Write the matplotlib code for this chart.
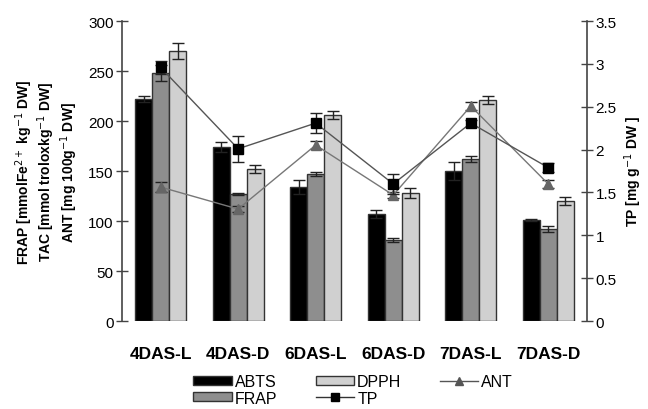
import numpy as np
import matplotlib
matplotlib.use('Agg')
import matplotlib.pyplot as plt
from matplotlib.lines import Line2D

matplotlib.rcParams['font.family'] = ['Liberation Sans', 'DejaVu Sans']

groups = ['4DAS-L', '4DAS-D', '6DAS-L', '6DAS-D', '7DAS-L', '7DAS-D']

abts = [222, 174, 134, 107, 150, 101]
abts_err = [3, 5, 7, 4, 9, 1]
frap = [248, 127, 147, 81, 162, 92]
frap_err = [8, 1, 2, 2, 3, 3]
dpph = [270, 152, 206, 128, 221, 120]
dpph_err = [8, 4, 4, 5, 4, 4]

ant = [134, 112, 176, 126, 215, 137]
ant_err = [5, 3, 4, 3, 4, 4]
tp = [2.96, 2.01, 2.31, 1.60, 2.31, 1.79]
tp_err = [0.08, 0.15, 0.12, 0.12, 0.04, 0.05]

fig = plt.figure(figsize=(6.48, 4.10), dpi=100)
ax = fig.add_axes([0.188, 0.2146, 0.718, 0.7314])
ax2 = ax.twinx()

x = np.arange(len(groups))
w = 0.22
ek = dict(ecolor='#222222', elinewidth=1, capsize=4, capthick=1)
b1 = ax.bar(x - w, abts, w, yerr=abts_err, color='black', edgecolor='#333333', linewidth=1, error_kw=ek)
b2 = ax.bar(x, frap, w, yerr=frap_err, color='#8e8e8e', edgecolor='#333333', linewidth=1, error_kw=ek)
b3 = ax.bar(x + w, dpph, w, yerr=dpph_err, color='#d0d0d0', edgecolor='#333333', linewidth=1, error_kw=ek)

ax.errorbar(x, ant, yerr=ant_err, color='#777777', marker='^', markersize=6.5,
            markerfacecolor='#666666', markeredgecolor='#666666', linewidth=1,
            ecolor='#222222', capsize=4, zorder=5)
ax2.errorbar(x, tp, yerr=tp_err, color='#555555', marker='s', markersize=6.5,
             markerfacecolor='black', markeredgecolor='black', linewidth=1,
             ecolor='#222222', capsize=4, zorder=5)

ax.set_xlim(-0.5, 5.5)
ax.set_ylim(0, 300)
ax2.set_ylim(0, 3.5)
ax.set_yticks(np.arange(0, 301, 50))
ax2.set_yticks(np.arange(0, 3.51, 0.5))
ax2.set_yticklabels(['0', '0.5', '1', '1.5', '2', '2.5', '3', '3.5'])

for a in (ax, ax2):
    for s in ['top', 'bottom']:
        a.spines[s].set_visible(False)
    a.tick_params(axis='y', direction='inout', length=8, width=1, color='#444444', labelsize=11, pad=2)
ax.spines['left'].set_color('#444444')
ax.spines['right'].set_visible(False)
ax2.spines['left'].set_visible(False)
ax2.spines['right'].set_color('#444444')
ax.spines['left'].set_linewidth(1.2)
ax2.spines['right'].set_linewidth(1.2)

ax.set_xticks(x)
ax.set_xticklabels(groups, fontsize=12.5, fontweight='bold')
ax.tick_params(axis='x', length=0, pad=18)

ax.set_ylabel('FRAP [mmolFe$^{2+}$ kg$^{-1}$ DW]\nTAC [mmol troloxkg$^{-1}$ DW]\nANT [mg 100g$^{-1}$ DW]',
              fontsize=10, fontweight='bold', linespacing=1.05, labelpad=6)
ax2.set_ylabel('TP [mg g$^{-1}$ DW ]', fontsize=10, fontweight='bold', labelpad=4)

tp_h = Line2D([], [], color='#333333', lw=1, marker='s', markersize=5.5,
              markerfacecolor='black', markeredgecolor='black')
ant_h = Line2D([], [], color='#555555', lw=1, marker='^', markersize=5.5,
               markerfacecolor='#555555', markeredgecolor='#555555')
fig.legend([b1, b2, b3, tp_h, ant_h], ['ABTS', 'FRAP', 'DPPH', 'TP', 'ANT'],
           loc='lower center', bbox_to_anchor=(0.545, -0.015),
           ncol=3, frameon=False, fontsize=11.5, handlelength=2.4, handleheight=0.5,
           handletextpad=0.2, columnspacing=2.4, labelspacing=0.1, borderaxespad=0.2)

fig.savefig('out.png', dpi=100)
